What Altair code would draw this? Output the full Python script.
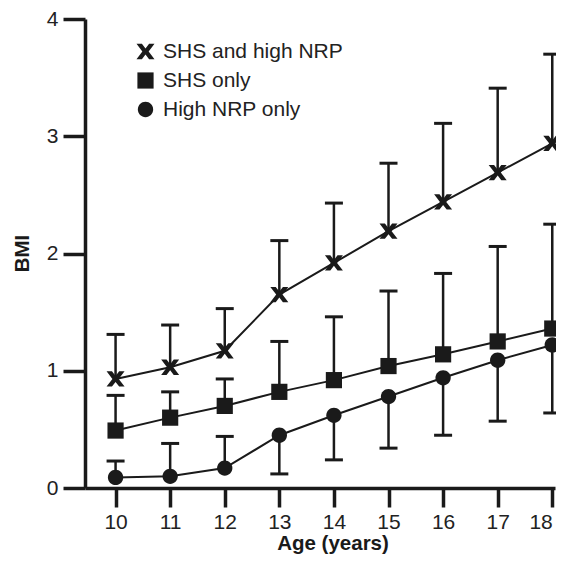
import altair as alt
import pandas as pd

ages = [10, 11, 12, 13, 14, 15, 16, 17, 18]
series_names = ["SHS and high NRP", "SHS only", "High NRP only"]

bmi_shs_nrp = [0.93, 1.03, 1.17, 1.65, 1.92, 2.19, 2.44, 2.69, 2.94]
cap_shs_nrp = [1.31, 1.39, 1.53, 2.11, 2.43, 2.77, 3.11, 3.41, 3.70]

bmi_shs = [0.49, 0.60, 0.70, 0.82, 0.92, 1.04, 1.14, 1.25, 1.36]
cap_shs = [0.79, 0.82, 0.93, 1.25, 1.46, 1.68, 1.83, 2.06, 2.25]

bmi_nrp = [0.09, 0.10, 0.17, 0.45, 0.62, 0.78, 0.94, 1.09, 1.22]
cap_nrp = [0.23, 0.38, 0.44, 0.12, 0.24, 0.34, 0.45, 0.57, 0.64]

rows = []
for name, vals, caps in zip(series_names,
                            [bmi_shs_nrp, bmi_shs, bmi_nrp],
                            [cap_shs_nrp, cap_shs, cap_nrp]):
    for a, v, c in zip(ages, vals, caps):
        rows.append({"age": a, "bmi": v, "cap": c, "series": name})
df = pd.DataFrame(rows)

INK = "#1a1a1a"
FONT = "Liberation Sans"

x_path = ("M-1,-0.85L-0.4,-0.85L0,-0.33L0.4,-0.85L1,-0.85L0.35,0"
          "L1,0.85L0.4,0.85L0,0.33L-0.4,0.85L-1,0.85L-0.35,0Z")
sq_path = "M-0.9,-0.9L0.9,-0.9L0.9,0.9L-0.9,0.9Z"
ci_path = "M0.85,0A0.85,0.85,0,1,1,-0.85,0A0.85,0.85,0,1,1,0.85,0Z"

x_scale = alt.Scale(domain=[9.44, 18.05], nice=False, zero=False)
y_scale = alt.Scale(domain=[0, 4], nice=False, zero=False)

x_enc = alt.X(
    "age:Q", scale=x_scale,
    axis=alt.Axis(values=ages, format="d", title="Age (years)",
                  offset=0, tickSize=19, labelPadding=4, labelFlush=5,
                  titleX=247.5, titleY=61.5,
                  titleBaseline="alphabetic", titleAlign="center"),
)
y_enc = alt.Y(
    "bmi:Q", scale=y_scale,
    axis=alt.Axis(values=[0, 1, 2, 3, 4], format="d", title="BMI",
                  offset=0, tickSize=22, labelPadding=5,
                  titleAngle=270, titleX=-56.5, titleY=234,
                  titleBaseline="alphabetic", titleAlign="center"),
)

base = alt.Chart(df)

bars = base.mark_rule(color=INK, strokeWidth=2.5).encode(
    x=x_enc, y=y_enc, y2="cap:Q", detail="series:N"
)
caps = base.mark_point(shape="stroke", size=324, strokeWidth=3,
                       color=INK, opacity=1, filled=False).encode(
    x=x_enc, y=alt.Y("cap:Q", scale=y_scale), detail="series:N"
)
lines = base.mark_line(color=INK, strokeWidth=2).encode(
    x=x_enc, y=y_enc, detail="series:N"
)
points = base.mark_point(filled=True, color=INK, opacity=1, size=324,
                         strokeWidth=0).encode(
    x=x_enc, y=y_enc,
    shape=alt.Shape("series:N",
                    scale=alt.Scale(domain=series_names,
                                    range=[x_path, sq_path, ci_path]),
                    legend=alt.Legend(title=None, orient="none",
                                      legendX=50, legendY=22)),
)

chart = alt.layer(bars, caps, lines, points).properties(
    width=470, height=469,
    autosize=alt.AutoSizeParams(type="none"),
    padding={"left": 77, "top": 11, "right": 1, "bottom": 68},
).configure_view(stroke=None).configure_scale(
    continuousPadding=0
).configure_axis(
    grid=False,
    domainColor=INK, domainWidth=3.5,
    tickColor=INK, tickWidth=3.5,
    labelFont=FONT, labelFontSize=21, labelColor="#222",
    titleFont=FONT, titleFontSize=20.5, titleFontWeight="bold", titleColor="#1a1a1a",
).configure_legend(
    padding=0, rowPadding=7, labelOffset=7,
    labelFont=FONT, labelFontSize=21, labelColor="#222", labelLimit=400,
    symbolSize=324, symbolFillColor=INK, symbolStrokeWidth=0, symbolOpacity=1,
)

chart.save("out.html", embed_options={"renderer": "svg", "actions": False})
